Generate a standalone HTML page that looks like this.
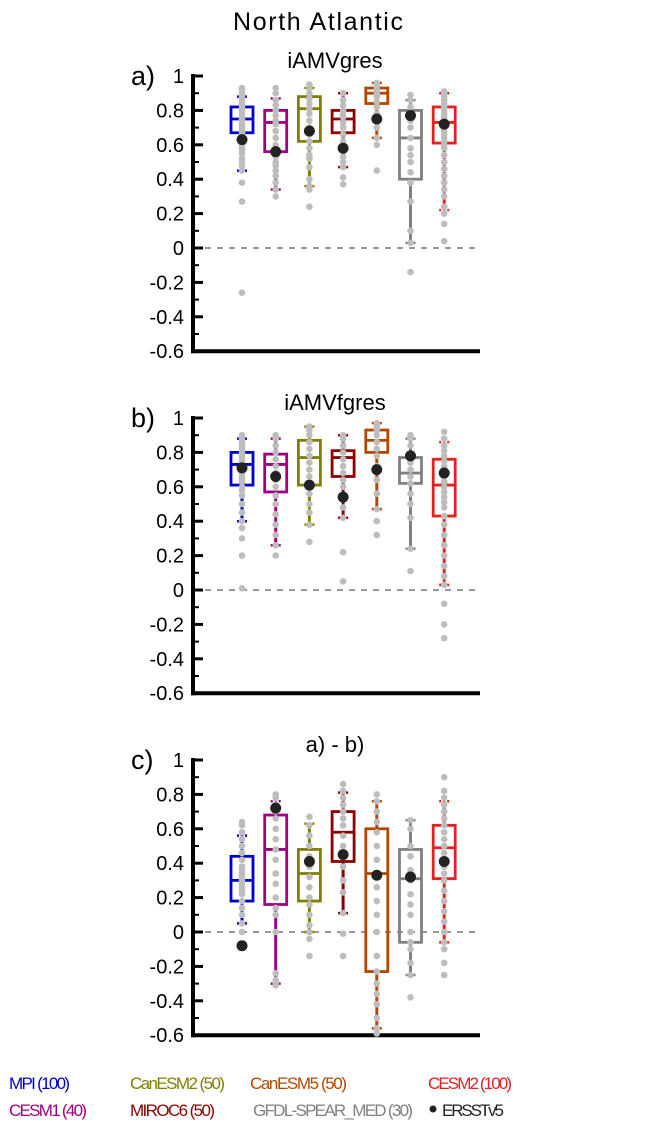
<!DOCTYPE html>
<html><head><meta charset="utf-8"><style>
html,body{margin:0;padding:0;background:#fff;}
svg{display:block;font-family:"Liberation Sans",sans-serif;}
</style></head><body>
<svg id="chart" width="645" height="1130" viewBox="0 0 645 1130">
<text x="318" y="30" font-size="25" text-anchor="middle" textLength="170">North Atlantic</text>
<g font-size="17">
<text x="9" y="1089" fill="#0000cc" textLength="61">MPI (100)</text>
<text x="9" y="1116" fill="#a0007f" textLength="78">CESM1 (40)</text>
<text x="130" y="1089" fill="#808000" textLength="95">CanESM2 (50)</text>
<text x="130" y="1116" fill="#8b0000" textLength="85">MIROC6 (50)</text>
<text x="250" y="1089" fill="#b34700" textLength="97">CanESM5 (50)</text>
<text x="253" y="1116" fill="#808080" textLength="160">GFDL-SPEAR_MED (30)</text>
<text x="428" y="1089" fill="#e62020" textLength="84">CESM2 (100)</text>
<circle cx="433" cy="1109" r="3.5" fill="#222"></circle>
<text x="442" y="1116" fill="#222" textLength="62">ERSSTv5</text>
</g>
</svg>
<script>
const models = ["MPI","CESM1","CanESM2","MIROC6","CanESM5","GFDL-SPEAR_MED","CESM2"];
const colors = ["#0000cc","#a0007f","#808000","#8b0000","#b34700","#808080","#e62020"];
const yTicks = [1,0.8,0.6,0.4,0.2,0,-0.2,-0.4,-0.6];
const yTickLabels = ["1","0.8","0.6","0.4","0.2","0","-0.2","-0.4","-0.6"];
const panelTitles = ["iAMVgres","iAMVfgres","a) - b)"];
const panelLetters = ["a)","b)","c)"];
// [whiskerLow, q1, median, q3, whiskerHigh] per model
const statsA = [[0.45,0.67,0.75,0.82,0.88],[0.34,0.56,0.73,0.80,0.87],[0.36,0.62,0.81,0.88,0.93],[0.47,0.67,0.75,0.80,0.90],[0.64,0.84,0.90,0.93,0.96],[0.03,0.40,0.64,0.80,0.86],[0.22,0.61,0.73,0.82,0.90]];
const statsB = [[0.40,0.61,0.73,0.80,0.88],[0.26,0.57,0.73,0.79,0.88],[0.38,0.61,0.77,0.87,0.95],[0.42,0.66,0.77,0.81,0.90],[0.47,0.80,0.87,0.93,0.97],[0.24,0.62,0.68,0.77,0.88],[0.03,0.43,0.61,0.76,0.86]];
const statsC = [[0.05,0.18,0.30,0.44,0.56],[-0.30,0.16,0.48,0.68,0.76],[0.00,0.18,0.34,0.48,0.63],[0.11,0.41,0.58,0.70,0.81],[-0.56,-0.23,0.34,0.60,0.76],[-0.25,-0.06,0.31,0.48,0.65],[-0.06,0.31,0.49,0.62,0.76]];
const obsA = [0.63,0.56,0.68,0.58,0.75,0.77,0.72];
const obsB = [0.71,0.66,0.61,0.54,0.70,0.78,0.68];
const obsC = [-0.08,0.72,0.41,0.45,0.33,0.32,0.41];
// ensemble member values (grey dots)
const membersA = [
 [-0.26,0.27,0.38,0.45,0.48,0.5,0.52,0.55,0.57,0.58,0.6,0.62,0.64,0.66,0.67,0.68,0.7,0.71,0.72,0.74,0.75,0.76,0.78,0.8,0.81,0.82,0.84,0.86,0.88,0.9,0.92,0.93],
 [0.3,0.34,0.38,0.42,0.45,0.48,0.5,0.53,0.56,0.6,0.64,0.68,0.72,0.74,0.77,0.8,0.83,0.86,0.9,0.93],
 [0.24,0.34,0.36,0.4,0.47,0.52,0.54,0.58,0.62,0.66,0.7,0.74,0.78,0.81,0.84,0.87,0.9,0.93,0.95],
 [0.37,0.41,0.47,0.5,0.53,0.58,0.62,0.66,0.7,0.73,0.76,0.78,0.8,0.83,0.86,0.9],
 [0.45,0.6,0.64,0.7,0.74,0.78,0.82,0.85,0.88,0.9,0.92,0.94,0.96],
 [-0.14,0.03,0.1,0.27,0.38,0.44,0.5,0.54,0.58,0.64,0.7,0.74,0.78,0.82,0.86,0.89],
 [0.04,0.14,0.2,0.24,0.3,0.34,0.38,0.42,0.46,0.5,0.54,0.58,0.6,0.62,0.64,0.66,0.68,0.7,0.72,0.74,0.76,0.78,0.8,0.82,0.84,0.86,0.88,0.9,0.91]
];
const membersB = [
 [0.01,0.2,0.3,0.36,0.4,0.45,0.5,0.55,0.58,0.6,0.63,0.65,0.66,0.68,0.7,0.72,0.73,0.75,0.76,0.78,0.8,0.82,0.84,0.86,0.88,0.9],
 [0.2,0.26,0.32,0.38,0.44,0.5,0.55,0.6,0.64,0.68,0.72,0.76,0.8,0.84,0.88,0.9],
 [0.28,0.38,0.45,0.5,0.56,0.61,0.66,0.7,0.74,0.78,0.82,0.86,0.9,0.93,0.95],
 [0.05,0.22,0.42,0.48,0.54,0.6,0.64,0.68,0.72,0.76,0.8,0.84,0.88,0.9],
 [0.32,0.4,0.47,0.56,0.64,0.72,0.78,0.82,0.86,0.9,0.93,0.95,0.97],
 [0.11,0.24,0.42,0.5,0.56,0.62,0.66,0.7,0.74,0.78,0.84,0.88,0.9],
 [-0.28,-0.2,-0.08,0.03,0.08,0.14,0.2,0.26,0.32,0.38,0.43,0.48,0.51,0.54,0.57,0.6,0.63,0.66,0.69,0.72,0.75,0.78,0.81,0.84,0.88,0.92]
];
const membersC = [
 [0,0.05,0.1,0.14,0.18,0.22,0.24,0.26,0.28,0.3,0.32,0.34,0.36,0.38,0.42,0.46,0.5,0.54,0.58,0.62,0.64],
 [-0.31,-0.28,-0.24,0.0,0.1,0.14,0.2,0.28,0.34,0.42,0.48,0.54,0.6,0.66,0.7,0.74,0.78,0.8],
 [-0.14,-0.04,0.0,0.04,0.1,0.16,0.2,0.26,0.32,0.38,0.44,0.5,0.56,0.62,0.67],
 [-0.14,-0.01,0.11,0.23,0.3,0.38,0.44,0.5,0.56,0.62,0.66,0.7,0.74,0.78,0.82,0.86],
 [-0.59,-0.56,-0.5,-0.42,-0.36,-0.3,-0.23,-0.14,0.0,0.1,0.18,0.26,0.34,0.42,0.5,0.58,0.64,0.7,0.76,0.8],
 [-0.38,-0.25,-0.18,-0.1,-0.06,0.0,0.1,0.16,0.22,0.3,0.36,0.44,0.5,0.6,0.65],
 [-0.25,-0.18,-0.1,-0.06,0.0,0.06,0.12,0.18,0.24,0.3,0.34,0.38,0.42,0.46,0.5,0.54,0.58,0.62,0.66,0.7,0.74,0.78,0.82,0.9]
];

const NS = "http://www.w3.org/2000/svg";
const svg = document.getElementById("chart");
function mk(tag, attrs, parent){const e=document.createElementNS(NS,tag);for(const k in attrs)e.setAttribute(k,attrs[k]);(parent||svg).appendChild(e);return e;}

const panelTop = [76,418,760];
const statsAll=[statsA,statsB,statsC], obsAll=[obsA,obsB,obsC], memAll=[membersA,membersB,membersC];
const axisX = 193, xEnd = 480, unit = 172;

for (let p=0;p<3;p++){
  const top = panelTop[p];
  const y = v => top + (1 - v) * unit;
  const x = i => 242 + i * 33.7;
  const g = mk("g",{});
  
  
  const t = mk("text",{x:335,y:top-8,"font-size":22,"text-anchor":"middle"},g);
  t.textContent = panelTitles[p];
  
  
  const l = mk("text",{x:131,y:top+9,"font-size":27},g);
  l.textContent = panelLetters[p];
  
  
  const z = mk("line",{x1:axisX,x2:xEnd,y1:y(0),y2:y(0),stroke:"#333","stroke-width":1,"stroke-dasharray":"6,6"},g);
  
  
  for (let v=-0.5; v<1; v+=0.2){
    const mt = mk("line",{x1:axisX,x2:axisX+6,y1:y(v),y2:y(v),stroke:"#000","stroke-width":2},g);
    
    
  }
  yTicks.forEach((v,i)=>{
    const tk = mk("line",{x1:axisX,x2:axisX+10,y1:y(v),y2:y(v),stroke:"#000","stroke-width":3},g);
    
    
    const tl = mk("text",{x:184,y:y(v)+7,"font-size":20,"text-anchor":"end"},g);
    tl.textContent = yTickLabels[i];
    
    
  });
  const ya = mk("line",{x1:axisX,x2:axisX,y1:top-2,y2:y(-0.6)+2,stroke:"#000","stroke-width":4},g);
  
  
  const xa = mk("line",{x1:axisX-2,x2:xEnd,y1:y(-0.6),y2:y(-0.6),stroke:"#000","stroke-width":4},g);
  
  

  statsAll[p].forEach((s,i)=>{
    const c = colors[i], cx = x(i), w = 11;
    const bg = mk("g",{},g);
    
    
    mk("line",{x1:cx,x2:cx,y1:y(s[0]),y2:y(s[1]),stroke:c,"stroke-width":3},bg);
    mk("line",{x1:cx,x2:cx,y1:y(s[3]),y2:y(s[4]),stroke:c,"stroke-width":3},bg);
    mk("line",{x1:cx-5,x2:cx+5,y1:y(s[0]),y2:y(s[0]),stroke:c,"stroke-width":2.5,"stroke-dasharray":"2,2"},bg);
    mk("line",{x1:cx-5,x2:cx+5,y1:y(s[4]),y2:y(s[4]),stroke:c,"stroke-width":2.5,"stroke-dasharray":"2,2"},bg);
    mk("rect",{x:cx-w,y:y(s[3]),width:2*w,height:y(s[1])-y(s[3]),fill:"none",stroke:c,"stroke-width":2.8},bg);
    mk("line",{x1:cx-w,x2:cx+w,y1:y(s[2]),y2:y(s[2]),stroke:c,"stroke-width":2.8},bg);
    memAll[p][i].forEach(v=>{
      const d = mk("circle",{cx:cx,cy:y(v),r:3.3,fill:"#bdbdbd"},bg);
      
      
    });
    const o = mk("circle",{cx:cx,cy:y(obsAll[p][i]),r:5.5,fill:"#222"},bg);
    
    
  });
}
</script>
</body></html>
